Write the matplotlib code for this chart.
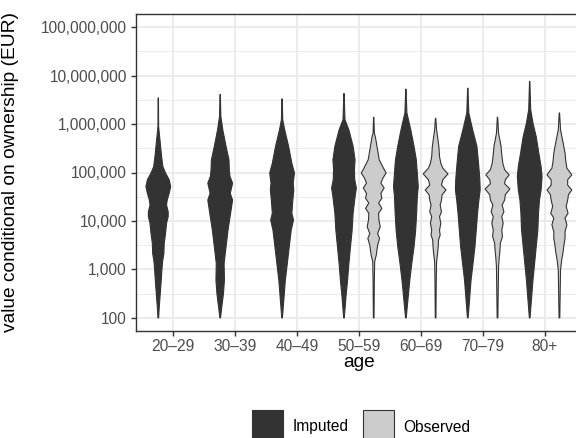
import numpy as np
import matplotlib
matplotlib.use("Agg")
import matplotlib.pyplot as plt
from matplotlib.patches import Rectangle
from matplotlib.ticker import FixedLocator, FuncFormatter

plt.rcParams["font.family"] = ["Liberation Sans", "DejaVu Sans"]

# Age groups on the x axis
age_groups = ["20\u201329", "30\u201339", "40\u201349", "50\u201359", "60\u201369", "70\u201379", "80+"]

# y-axis breaks (EUR)
y_breaks = [1e2, 1e3, 1e4, 1e5, 1e6, 1e7, 1e8]

# Violin profiles: log10(value in EUR) levels and relative density at each level
imp_20_29_log = [6.54, 5.95, 5.81, 5.54, 5.33, 5.12, 4.99, 4.85, 4.71, 4.57, 4.43, 4.33, 4.19, 4.09, 3.95, 3.74, 3.54, 3.33, 3.16, 2.99, 2.78, 2.50, 2.23, 2.00]
imp_20_29_den = [0.5, 1, 3, 7, 10, 14, 22, 33, 37.5, 33, 27, 25, 30, 30, 25, 22, 18, 17, 13, 11, 9, 6, 3, 1]

imp_30_39_log = [6.61, 6.16, 5.88, 5.54, 5.26, 5.06, 4.92, 4.78, 4.57, 4.43, 4.16, 3.81, 3.47, 3.12, 2.78, 2.50, 2.23, 2.00]
imp_30_39_den = [0.5, 2, 8, 18, 27, 28, 30, 38, 31, 38, 32, 24, 18, 12, 13, 10, 5, 1]

imp_40_49_log = [6.52, 6.09, 5.88, 5.54, 5.19, 4.99, 4.78, 4.64, 4.43, 4.16, 4.02, 3.81, 3.47, 3.12, 2.78, 2.43, 2.00]
imp_40_49_den = [0.5, 2, 8, 20, 30, 38, 34, 36, 33, 30, 35, 28, 22, 16, 10, 6, 1]

imp_50_59_log = [6.63, 6.09, 5.88, 5.54, 5.26, 5.06, 4.85, 4.68, 4.50, 4.16, 3.81, 3.47, 3.12, 2.78, 2.43, 2.00]
imp_50_59_den = [0.5, 3, 15, 28, 34, 32, 33, 38, 34, 28, 25, 20, 15, 11, 6, 1]

obs_50_59_log = [6.14, 5.81, 5.74, 5.54, 5.26, 5.09, 4.99, 4.88, 4.78, 4.68, 4.57, 4.47, 4.37, 4.26, 4.16, 4.02, 3.88, 3.74, 3.64, 3.50, 3.40, 3.30, 3.16, 2.78, 2.00]
obs_50_59_den = [0.5, 2, 5, 10, 17, 30, 38, 28, 22, 32, 22, 25, 15, 25, 15, 16, 20, 12, 18, 12, 10, 8, 3, 2, 1]

imp_60_69_log = [6.72, 6.23, 5.88, 5.54, 5.26, 4.99, 4.71, 4.50, 4.16, 3.81, 3.47, 3.12, 2.78, 2.43, 2.00]
imp_60_69_den = [0.5, 3, 15, 25, 32, 35, 38, 35, 33, 30, 25, 18, 12, 7, 1]

obs_60_69_log = [6.12, 5.88, 5.54, 5.33, 5.19, 5.09, 4.97, 4.85, 4.74, 4.64, 4.54, 4.43, 4.33, 4.19, 4.09, 3.95, 3.81, 3.71, 3.61, 3.47, 3.33, 3.16, 2.78, 2.00]
obs_60_69_den = [0.5, 3, 10, 12, 16, 22, 38, 22, 18, 32, 20, 18, 14, 18, 12, 16, 12, 14, 9, 8, 6, 3, 2, 1]

imp_70_79_log = [6.74, 6.23, 5.88, 5.54, 5.19, 4.85, 4.64, 4.43, 4.16, 3.81, 3.47, 3.12, 2.78, 2.43, 2.00]
imp_70_79_den = [0.5, 3, 15, 28, 33, 37, 38, 34, 30, 26, 22, 16, 10, 6, 1]

obs_70_79_log = [6.14, 5.81, 5.54, 5.37, 5.19, 5.06, 4.95, 4.85, 4.77, 4.66, 4.54, 4.43, 4.33, 4.19, 4.09, 3.95, 3.81, 3.68, 3.54, 3.40, 3.26, 3.06, 2.00]
obs_70_79_den = [0.5, 3, 10, 12, 15, 20, 33, 22, 20, 35, 22, 20, 13, 18, 12, 16, 12, 14, 8, 7, 5, 3, 1]

imp_80p_log = [6.88, 6.30, 6.02, 5.74, 5.40, 5.12, 4.92, 4.64, 4.43, 4.16, 3.81, 3.47, 3.12, 2.78, 2.43, 2.00]
imp_80p_den = [0.5, 3, 10, 20, 28, 35, 38, 35, 30, 27, 25, 20, 15, 10, 6, 1]

obs_80p_log = [6.23, 5.88, 5.61, 5.40, 5.23, 5.09, 4.95, 4.85, 4.74, 4.64, 4.54, 4.43, 4.30, 4.16, 4.06, 3.92, 3.78, 3.64, 3.50, 3.37, 3.19, 2.99, 2.00]
obs_80p_den = [0.5, 3, 10, 15, 17, 20, 33, 22, 22, 33, 24, 22, 18, 23, 15, 20, 15, 15, 12, 10, 6, 3, 1]

imputed = [
    (imp_20_29_log, imp_20_29_den),
    (imp_30_39_log, imp_30_39_den),
    (imp_40_49_log, imp_40_49_den),
    (imp_50_59_log, imp_50_59_den),
    (imp_60_69_log, imp_60_69_den),
    (imp_70_79_log, imp_70_79_den),
    (imp_80p_log, imp_80p_den),
]
observed = [
    None, None, None,
    (obs_50_59_log, obs_50_59_den),
    (obs_60_69_log, obs_60_69_den),
    (obs_70_79_log, obs_70_79_den),
    (obs_80p_log, obs_80p_den),
]

col_imp = "#333333"
col_obs = "#CCCCCC"
edge = "#333333"
dodge = 0.24
half_max = 0.2

W, H = 576, 438
fig = plt.figure(figsize=(W / 100, H / 100), dpi=100)
left, right, top, bottom = 136, 581.7, 14, 331
ax = fig.add_axes([left / W, 1 - bottom / H, (right - left) / W, (bottom - top) / H])


def violin(ax, xc, logs, dens, fc):
    logs = np.asarray(logs, float)
    d = np.asarray(dens, float)
    d = d / d.max() * half_max
    y = 10 ** logs
    xs = np.concatenate([xc - d, (xc + d)[::-1]])
    ys = np.concatenate([y, y[::-1]])
    ax.fill(xs, ys, facecolor=fc, edgecolor=edge, linewidth=0.8, zorder=3)


for i, grp in enumerate(age_groups):
    xc = i + 1
    lg, dn = imputed[i]
    violin(ax, xc - dodge, lg, dn, col_imp)
    if observed[i] is not None:
        lg, dn = observed[i]
        violin(ax, xc + dodge, lg, dn, col_obs)

ax.set_yscale("log")
ax.set_ylim(10 ** 1.73, 10 ** 8.27)
ax.set_xlim(0.4, 7.6)
ax.yaxis.set_major_locator(FixedLocator(y_breaks))
ax.yaxis.set_minor_locator(FixedLocator([10 ** (k + 0.5) for k in range(1, 8)]))
ax.yaxis.set_major_formatter(FuncFormatter(lambda v, p: f"{v:,.0f}"))
ax.set_xticks(range(1, len(age_groups) + 1))
ax.set_xticklabels(age_groups)

ax.grid(True, which="major", color="#EBEBEB", linewidth=1.4, zorder=0)
ax.grid(True, which="minor", axis="y", color="#EBEBEB", linewidth=0.7, zorder=0)
ax.set_axisbelow(True)
for s in ax.spines.values():
    s.set_color("#333333")
    s.set_linewidth(1.0)
ax.tick_params(which="major", length=3.4, width=1.0, color="#333333",
               labelcolor="#4D4D4D", labelsize=11.2, pad=3.2)
ax.tick_params(axis="x", which="major", pad=2.6)
ax.tick_params(which="minor", length=0)

fig.text(11 / W, 1 - ((top + bottom) / 2) / H, "value conditional on ownership (EUR)",
         rotation=90, ha="center", va="center", fontsize=13.8, color="black")
fig.text(((left + right) / 2) / W, 1 - 367 / H, "age",
         ha="center", va="baseline", fontsize=13.8, color="black")

# Legend
keys = [("Imputed", col_imp, 252, 293), ("Observed", col_obs, 363, 403)]
for label, fc, kx, tx in keys:
    fig.patches.append(Rectangle((kx / W, 1 - 442 / H), 31 / W, 32 / H,
                                 transform=fig.transFigure, facecolor=fc,
                                 edgecolor=edge, linewidth=0.8))
    fig.text(tx / W, 1 - 427 / H, label, ha="left", va="center",
             fontsize=11.2, color="black")

fig.savefig("out.png", dpi=100)
